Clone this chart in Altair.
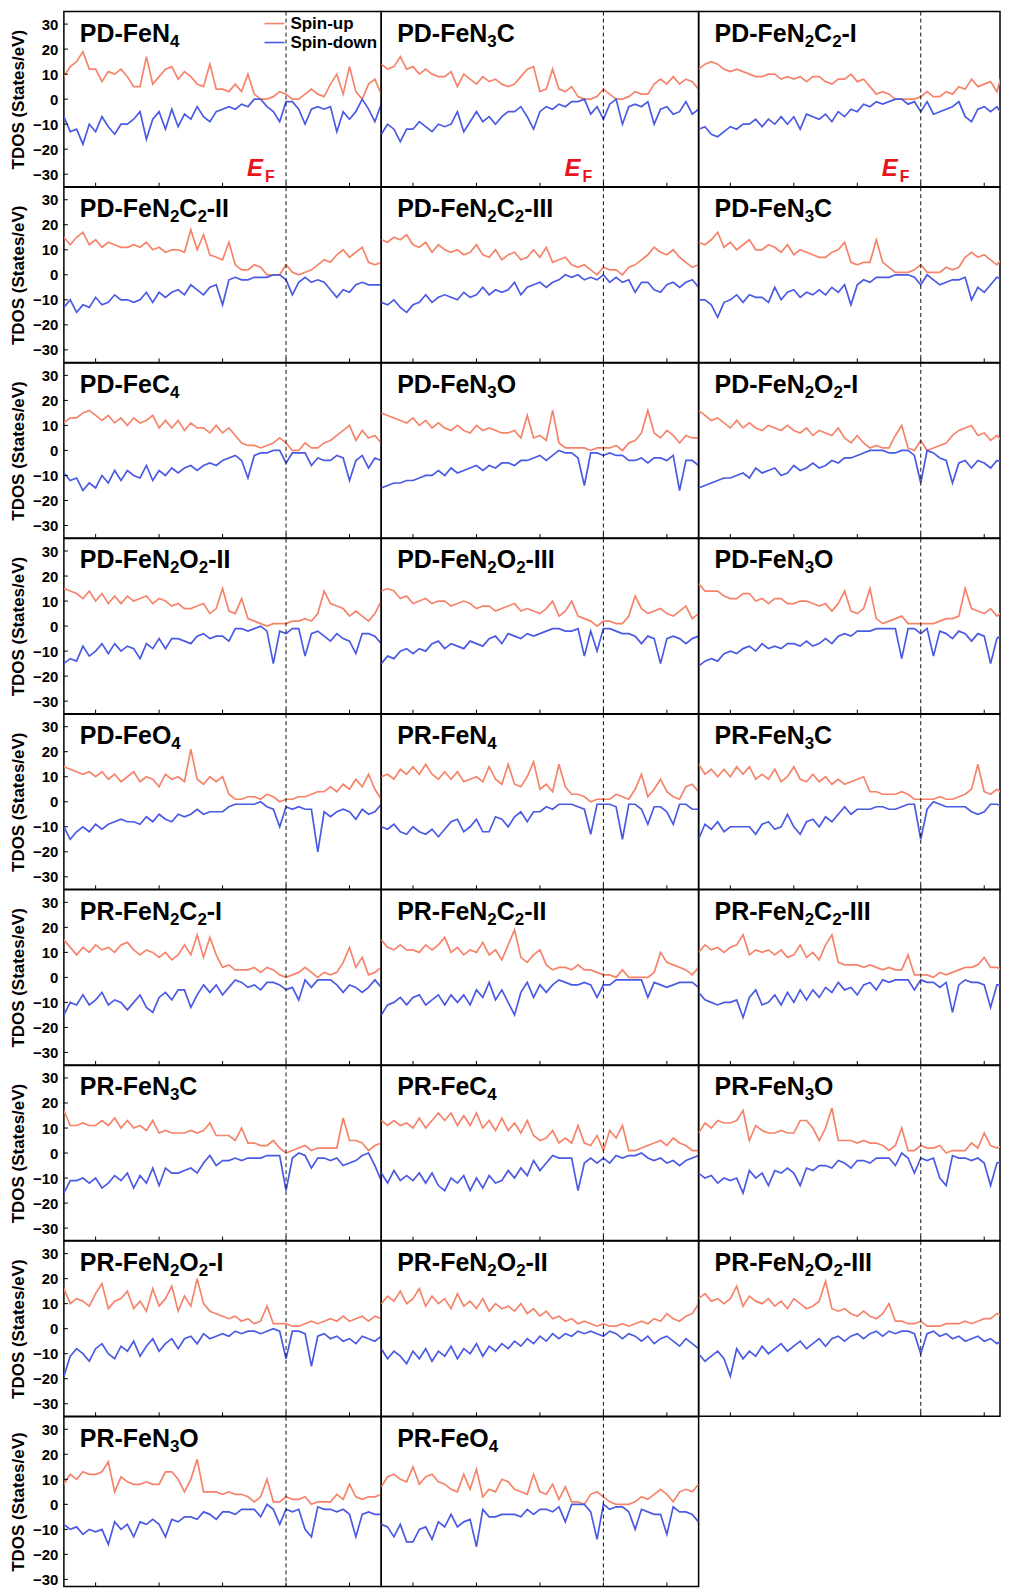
import altair as alt
import pandas as pd

# ---------------- data ----------------
ENERGY = [-7.0, -6.8, -6.6, -6.4, -6.2, -6.0, -5.8, -5.6, -5.4, -5.2,
          -5.0, -4.8, -4.6, -4.4, -4.2, -4.0, -3.8, -3.6, -3.4, -3.2,
          -3.0, -2.8, -2.6, -2.4, -2.2, -2.0, -1.8, -1.6, -1.4, -1.2,
          -1.0, -0.8, -0.6, -0.4, -0.2, 0.0, 0.2, 0.4, 0.6, 0.8,
          1.0, 1.2, 1.4, 1.6, 1.8, 2.0, 2.2, 2.4, 2.6, 2.8, 3.0]
E_FERMI = 0.0
X_TICKS = [-6, -4, -2, 0, 2]
Y_TICKS = [-30, -20, -10, 0, 10, 20, 30]
SPINS = ["Spin-up", "Spin-down"]

PD_FEN4_UP = [9,13,15,19,12,12,7,11,10,12, 9,5,5,17,6,9,12,13,8,11, 9,6,5,14,4,4,3,6,3,10, 2,0,0,1,3,2,0,0,2,4, 2,1,6,10,2,13,3,0,6,8, 2]
PD_FEN4_DN = [-7,-13,-12,-18,-10,-13,-7,-11,-14,-10, -10,-8,-5,-16,-8,-5,-12,-4,-11,-6, -8,-3,-7,-9,-5,-4,-3,-4,-2,-3, 0,0,-3,-5,-9,-1,-1,-4,-10,-4, -3,-4,-3,-13,-5,-8,-5,0,-4,-9, -2]
PD_FEN3C_UP = [14,12,13,17,12,13,10,12,10,9, 9,11,5,10,8,6,9,7,8,6, 5,6,9,12,13,3,4,12,4,3, 5,1,0,0,1,4,2,0,0,1, 3,2,2,6,8,6,9,6,8,7, 4]
PD_FEN3C_DN = [-14,-10,-12,-17,-12,-12,-9,-11,-13,-10, -11,-10,-5,-13,-9,-5,-9,-7,-10,-7, -5,-5,-3,-7,-12,-5,-3,-4,-2,-3, -1,-1,0,-6,-3,-8,-2,0,-10,-3, -2,-3,-1,-10,-4,-3,-6,-5,-1,-6, -4]
PD_FEN2C2_I_UP = [12,14,15,14,12,11,12,11,10,9, 9,10,10,8,9,8,9,7,9,9, 7,6,8,8,10,7,8,5,2,3, 2,0,0,0,0,1,3,1,1,3, 2,5,4,8,5,6,7,3,12,6, 8]
PD_FEN2C2_I_DN = [-12,-11,-14,-15,-13,-11,-12,-10,-10,-8, -11,-8,-10,-7,-10,-7,-12,-6,-7,-8, -6,-9,-5,-7,-4,-5,-2,-3,-1,-2, -1,0,0,-2,-1,-5,-1,-6,-5,-4, -3,-1,-7,-9,-4,-3,-5,-3,-7,-4, -3]
PD_FEN2C2_II_UP = [15,12,15,17,12,14,11,13,12,11, 11,12,11,13,10,11,9,10,10,9, 18,10,16,8,7,6,13,4,2,2, 4,3,0,0,0,4,1,0,1,2, 4,6,5,8,10,7,9,11,5,4, 5]
PD_FEN2C2_II_DN = [-13,-10,-15,-12,-13,-9,-12,-11,-8,-10, -10,-11,-10,-7,-11,-7,-9,-7,-6,-8, -4,-6,-8,-5,-4,-12,-2,-1,-2,-2, -1,-1,-1,0,0,-2,-8,-3,-1,-3, -2,-3,-6,-9,-6,-7,-4,-3,-4,-4, -4]
PD_FEN2C2_III_UP = [14,13,15,14,16,12,11,13,9,12, 10,9,10,8,9,12,8,7,10,6, 8,9,6,7,10,7,11,5,6,7, 4,3,4,2,0,3,2,2,0,3, 4,6,8,11,9,8,10,7,5,3, 4]
PD_FEN2C2_III_DN = [-11,-12,-10,-13,-15,-12,-11,-8,-11,-9, -8,-9,-10,-7,-9,-8,-5,-8,-6,-7, -6,-3,-8,-5,-4,-3,-5,-3,-2,0, -1,0,-2,-1,-2,0,-3,-1,-3,-2, -7,-3,-3,-6,-7,-4,-3,-5,-3,-2, -5]
PD_FEN3C_B_UP = [13,12,14,17,11,13,10,12,14,10, 10,12,11,9,12,8,10,9,8,7, 7,9,10,13,5,4,5,5,14,5, 3,1,1,1,2,4,1,1,1,3, 2,3,7,9,7,8,6,4,7,8, 6]
PD_FEN3C_B_DN = [-10,-10,-12,-17,-11,-10,-8,-11,-8,-9, -9,-11,-5,-10,-7,-6,-9,-7,-8,-6, -8,-5,-7,-4,-12,-4,-2,-3,-1,-1, -1,0,0,0,-1,-4,0,-2,-4,-3, -2,-2,-1,-10,-5,-7,-4,-1,-2,-7, -5]
PD_FEC4_UP = [11,13,13,15,16,14,12,14,11,13, 10,13,11,12,14,9,12,9,12,8, 11,9,9,7,10,7,9,6,3,2, 2,1,2,3,5,3,0,0,3,1, 1,3,4,6,8,10,4,8,5,6, 3]
PD_FEC4_DN = [-9,-12,-11,-16,-13,-15,-10,-13,-8,-12, -8,-10,-11,-6,-12,-8,-10,-7,-9,-7, -6,-8,-6,-5,-6,-4,-3,-2,-4,-11, -2,-1,-1,0,0,-5,-1,-1,-1,-6, -3,-4,-4,-2,-3,-12,-4,-2,-7,-3, -4]
PD_FEN3O_UP = [15,14,13,12,11,13,10,12,9,11, 9,8,10,8,7,10,8,9,8,7, 7,8,5,14,5,6,4,16,3,1, 1,1,1,0,1,1,1,2,0,3, 4,7,16,7,5,8,6,3,6,5, 5]
PD_FEN3O_DN = [-15,-14,-13,-13,-12,-12,-11,-10,-10,-8, -10,-7,-9,-8,-7,-6,-8,-6,-7,-5, -5,-6,-4,-4,-3,-2,-4,-2,0,-1, -1,-3,-14,-1,-1,-2,-1,-2,-2,-4, -4,-3,-5,-3,-3,-4,-2,-16,-4,-4, -6]
PD_FEN2O2_I_UP = [16,14,12,13,11,9,12,9,11,9, 8,10,9,8,10,8,7,9,6,8, 7,6,9,5,3,6,3,1,2,1, 1,6,10,1,0,4,0,1,2,3, 6,8,9,10,6,7,4,6,3,3, 4]
PD_FEN2O2_I_DN = [-15,-14,-13,-12,-11,-11,-10,-9,-11,-7, -9,-8,-7,-10,-9,-6,-8,-7,-5,-7, -6,-4,-5,-3,-3,-2,-1,0,0,0, -1,-1,0,0,-2,-13,0,-1,-3,-4, -13,-5,-4,-7,-4,-5,-7,-4,-5,-5, -4]
PD_FEN2O2_II_UP = [15,14,13,11,14,10,13,9,12,9, 12,10,11,12,9,11,10,8,9,7, 7,8,9,5,7,15,6,5,11,3, 2,1,0,1,1,1,2,2,3,2, 5,14,9,8,7,4,6,4,2,5, 10]
PD_FEN2O2_II_DN = [-15,-13,-14,-8,-12,-10,-7,-11,-7,-10, -8,-9,-13,-7,-9,-5,-9,-5,-5,-6, -7,-4,-3,-5,-4,-4,-6,-1,-1,-2, -1,0,-2,-15,-2,-3,-1,-1,-12,-3, -2,-4,-6,-3,-5,-6,-11,-3,-3,-4, -7]
PD_FEN2O2_III_UP = [14,15,14,11,12,9,10,11,9,10, 10,8,9,10,9,7,8,8,6,7, 8,9,6,7,6,5,7,10,4,6, 10,4,3,2,0,2,2,1,1,4, 12,7,5,6,7,5,4,6,8,3, 5]
PD_FEN2O2_III_DN = [-15,-12,-13,-10,-9,-11,-9,-10,-7,-6, -9,-7,-8,-9,-6,-7,-8,-5,-4,-7, -3,-4,-5,-3,-4,-3,-2,-1,-1,-2, -2,-1,-12,-2,-10,-1,-1,-2,-3,-3, -4,-7,-4,-5,-15,-5,-4,-5,-7,-5, -4]
PD_FEN3O_B_UP = [17,14,14,14,12,11,11,13,13,10, 11,9,11,11,9,9,10,10,9,8, 9,6,9,14,6,5,7,15,3,1, 2,3,4,1,1,1,1,1,2,3, 3,4,15,7,6,5,7,4,6,7, 5]
PD_FEN3O_B_DN = [-16,-14,-13,-14,-11,-10,-11,-9,-8,-10, -7,-9,-8,-9,-7,-7,-8,-6,-8,-7, -5,-7,-4,-3,-4,-2,-2,-2,-1,-1, -1,-1,-13,-1,-1,-3,-1,-12,-2,-3, -5,-2,-3,-6,-3,-4,-15,-5,-3,-4, -4]
PD_FEO4_UP = [14,13,12,11,12,10,12,9,11,8, 10,12,8,10,9,6,11,9,10,8, 21,9,7,10,8,10,3,1,1,2, 2,1,3,2,0,1,1,2,2,3, 4,4,6,4,7,5,9,6,11,5, 1]
PD_FEO4_DN = [-10,-15,-12,-10,-12,-9,-11,-9,-8,-7, -8,-8,-9,-6,-8,-5,-7,-8,-5,-6, -5,-3,-5,-4,-4,-4,-2,-1,-1,-1, -1,0,-2,-3,-10,-2,-3,-2,-3,-3, -20,-4,-6,-4,-3,-4,-7,-3,-5,-4, -1]
PR_FEN4_UP = [10,11,9,13,11,14,11,15,11,9, 12,9,12,8,9,10,8,14,9,7, 15,7,6,10,16,5,7,4,15,6, 3,3,2,0,1,1,1,3,2,1, 5,11,2,5,9,4,2,1,6,7, 4]
PR_FEN4_DN = [-10,-11,-9,-12,-13,-10,-12,-13,-11,-14, -11,-8,-7,-12,-10,-7,-12,-12,-6,-7, -10,-6,-4,-8,-4,-4,-2,-3,-1,-1, -1,-2,-3,-13,-1,-1,-1,-2,-15,-1, -1,-3,-9,-2,-2,-4,-9,-1,-1,-3, -3]
PR_FEN3C_UP = [15,11,13,10,13,10,14,11,14,9, 11,9,13,8,10,14,9,8,11,8, 10,7,9,7,8,9,10,4,4,3, 3,3,4,3,1,1,1,1,2,1, 1,2,3,5,15,4,3,5,3,2, 3]
PR_FEN3C_DN = [-15,-9,-11,-8,-12,-10,-10,-10,-10,-13, -9,-8,-11,-10,-5,-10,-13,-8,-7,-10, -6,-8,-5,-2,-5,-3,-3,-3,-2,-2, -3,-3,-2,-1,-1,-15,-3,0,-1,-2, -2,-2,-2,-4,-5,-4,-1,-1,-2,-2, -2]
PR_FEN2C2_I_UP = [15,12,9,12,10,13,11,12,10,13, 14,11,9,11,10,8,10,7,9,13, 9,17,8,16,9,4,5,3,3,3, 4,2,4,3,1,0,1,2,4,2, 0,2,1,2,6,12,4,8,1,2, 4]
PR_FEN2C2_I_DN = [-15,-10,-11,-7,-11,-9,-6,-11,-9,-10, -13,-10,-7,-12,-14,-8,-6,-9,-5,-5, -12,-7,-3,-6,-3,-7,-4,-1,-2,-4, -3,-5,-2,-2,-3,-5,-4,-9,-1,-4, -1,-1,-1,-3,-6,-3,-4,-6,-4,-1, -4]
PR_FEN2C2_II_UP = [15,12,11,13,11,11,10,13,11,13, 16,10,12,9,11,10,14,9,11,7, 13,19,8,6,9,11,5,3,4,4, 3,5,3,3,2,1,1,0,3,0, 0,0,0,2,10,6,5,4,3,1, 4]
PR_FEN2C2_II_DN = [-15,-11,-10,-8,-11,-8,-7,-11,-9,-7, -11,-7,-10,-7,-11,-5,-8,-2,-9,-5, -10,-15,-6,-2,-8,-3,-6,-3,-1,-2, -3,-3,-2,-3,-8,-3,-3,-1,-1,-1, -1,-1,-8,-2,-3,-4,-3,-2,-2,-2, -4]
PR_FEN2C2_III_UP = [10,13,11,12,10,12,13,17,9,11, 10,11,9,11,8,9,13,8,10,7, 13,17,6,5,5,5,4,5,4,3, 4,3,3,9,1,1,1,0,2,1, 2,3,4,4,5,8,4,4,3,3, 4]
PR_FEN2C2_III_DN = [-6,-9,-10,-11,-10,-10,-9,-16,-8,-5, -11,-10,-7,-11,-6,-10,-5,-9,-5,-8, -4,-6,-2,-5,-4,-7,-3,-2,-5,-1, -2,-1,-1,-1,-5,-1,-2,-2,-4,-2, -14,-3,-1,-2,-2,-3,-12,-3,-3,-4, -4]
PR_FEN3C_B_UP = [17,11,11,12,11,11,13,11,14,10, 13,10,11,9,13,8,9,8,8,8, 9,8,9,12,7,7,7,5,10,4, 4,3,3,5,2,0,1,2,3,1, 2,2,2,2,14,5,5,4,1,3, 4]
PR_FEN3C_B_DN = [-16,-11,-11,-10,-12,-10,-14,-12,-9,-11, -8,-14,-9,-12,-6,-13,-6,-8,-8,-7, -6,-8,-4,-1,-5,-3,-3,-2,-3,-2, -2,-2,-1,-1,-1,-15,-2,0,-1,-6, -2,-2,-3,-2,-5,-4,-3,-1,0,-5, -11]
PR_FEC4_UP = [13,11,13,11,12,10,14,10,13,16, 13,16,11,15,11,16,10,13,9,14, 9,12,8,13,7,5,6,9,4,6, 4,11,4,3,7,1,9,6,11,1, 1,2,3,4,5,3,6,4,3,1, 1]
PR_FEC4_DN = [-8,-12,-7,-11,-9,-11,-8,-12,-8,-13, -15,-10,-12,-9,-15,-10,-14,-9,-12,-11, -7,-10,-6,-9,-3,-7,-4,-1,-2,-2, -2,-15,-4,-2,-4,-2,-4,-1,-2,-1, -1,0,-2,-3,-2,-4,-3,-5,-3,-2, -1]
PR_FEN3O_UP = [8,12,10,13,12,12,13,17,5,11, 9,8,8,9,8,8,13,13,10,5, 10,18,5,5,5,4,5,4,4,3, 1,3,10,1,1,3,2,2,3,0, 1,1,1,4,2,8,3,2,3,3, 4]
PR_FEN3O_DN = [-8,-10,-9,-12,-10,-11,-10,-16,-7,-10, -8,-13,-7,-8,-6,-8,-13,-6,-7,-5, -5,-6,-3,-4,-6,-3,-3,-4,-2,-2, -2,-5,0,-2,-8,-2,-3,-2,-10,-13, -1,-2,-2,-3,-2,-4,-13,-4,-3,-4, -4]
PR_FEN2O2_I_UP = [16,10,12,11,9,14,18,8,11,12, 15,8,11,7,16,9,12,17,7,13, 9,20,10,7,6,5,4,5,3,4, 2,3,9,2,2,2,1,1,2,3, 2,3,4,3,5,3,4,5,3,5, 4]
PR_FEN2O2_I_DN = [-19,-11,-8,-10,-13,-8,-6,-10,-12,-7, -9,-5,-11,-7,-4,-9,-6,-4,-8,-4, -3,-6,-2,-4,-3,-2,-3,-1,-2,-1, -1,-2,-1,0,-1,-12,-1,-1,-2,-15, -3,-2,-4,-3,-5,-4,-6,-3,-4,-5, -3]
PR_FEN2O2_II_UP = [10,13,11,15,10,12,16,9,13,10, 12,8,14,9,11,8,12,7,10,8, 9,7,10,6,8,5,7,4,5,3, 4,2,3,2,1,2,1,1,2,1, 2,3,2,4,3,6,4,3,5,6, 10]
PR_FEN2O2_II_DN = [-8,-12,-9,-11,-14,-9,-12,-8,-13,-9, -11,-7,-12,-8,-10,-6,-11,-7,-9,-6, -8,-5,-7,-4,-6,-3,-5,-2,-4,-2, -3,-1,-2,-1,-2,-3,-1,-2,-4,-2, -3,-5,-3,-6,-4,-3,-5,-7,-4,-6, -8]
PR_FEN2O2_III_UP = [12,14,11,12,10,12,17,9,13,11, 10,12,9,11,8,12,10,8,9,11, 19,8,7,8,6,5,7,5,4,6, 10,3,3,2,2,3,1,1,1,2, 2,2,3,2,3,4,4,6,5,4, 5]
PR_FEN2O2_III_DN = [-10,-13,-11,-9,-12,-19,-8,-12,-9,-11, -7,-10,-8,-6,-9,-7,-5,-8,-6,-4, -7,-4,-3,-5,-3,-2,-4,-2,-1,-3, -1,-2,-1,-1,-2,-10,-2,-1,-3,-2, -4,-3,-5,-4,-3,-5,-4,-6,-4,-6, -7]
PR_FEO4_UP = [7,11,12,10,9,15,8,11,12,9, 8,6,5,12,6,14,3,6,5,10, 9,6,5,4,12,5,4,8,2,7, 1,1,0,4,5,3,1,0,0,0, 1,3,2,4,6,4,1,5,6,5, 8]
PR_FEO4_DN = [-8,-9,-13,-8,-15,-15,-10,-9,-14,-7, -9,-4,-9,-7,-6,-17,-2,-5,-5,-4, -4,-4,-5,-2,-4,-2,-2,-3,-1,-7, 0,0,0,-3,-14,0,-2,-1,-1,-3, -10,-2,-3,-4,-4,-12,-1,-3,-3,-4, -7]

# panel titles: digits are drawn as subscripts
PANELS = [
    ("PD-FeN4", PD_FEN4_UP, PD_FEN4_DN),
    ("PD-FeN3C", PD_FEN3C_UP, PD_FEN3C_DN),
    ("PD-FeN2C2-I", PD_FEN2C2_I_UP, PD_FEN2C2_I_DN),
    ("PD-FeN2C2-II", PD_FEN2C2_II_UP, PD_FEN2C2_II_DN),
    ("PD-FeN2C2-III", PD_FEN2C2_III_UP, PD_FEN2C2_III_DN),
    ("PD-FeN3C", PD_FEN3C_B_UP, PD_FEN3C_B_DN),
    ("PD-FeC4", PD_FEC4_UP, PD_FEC4_DN),
    ("PD-FeN3O", PD_FEN3O_UP, PD_FEN3O_DN),
    ("PD-FeN2O2-I", PD_FEN2O2_I_UP, PD_FEN2O2_I_DN),
    ("PD-FeN2O2-II", PD_FEN2O2_II_UP, PD_FEN2O2_II_DN),
    ("PD-FeN2O2-III", PD_FEN2O2_III_UP, PD_FEN2O2_III_DN),
    ("PD-FeN3O", PD_FEN3O_B_UP, PD_FEN3O_B_DN),
    ("PD-FeO4", PD_FEO4_UP, PD_FEO4_DN),
    ("PR-FeN4", PR_FEN4_UP, PR_FEN4_DN),
    ("PR-FeN3C", PR_FEN3C_UP, PR_FEN3C_DN),
    ("PR-FeN2C2-I", PR_FEN2C2_I_UP, PR_FEN2C2_I_DN),
    ("PR-FeN2C2-II", PR_FEN2C2_II_UP, PR_FEN2C2_II_DN),
    ("PR-FeN2C2-III", PR_FEN2C2_III_UP, PR_FEN2C2_III_DN),
    ("PR-FeN3C", PR_FEN3C_B_UP, PR_FEN3C_B_DN),
    ("PR-FeC4", PR_FEC4_UP, PR_FEC4_DN),
    ("PR-FeN3O", PR_FEN3O_UP, PR_FEN3O_DN),
    ("PR-FeN2O2-I", PR_FEN2O2_I_UP, PR_FEN2O2_I_DN),
    ("PR-FeN2O2-II", PR_FEN2O2_II_UP, PR_FEN2O2_II_DN),
    ("PR-FeN2O2-III", PR_FEN2O2_III_UP, PR_FEN2O2_III_DN),
    ("PR-FeN3O", PR_FEN3O_UP, PR_FEN3O_DN),
    ("PR-FeO4", PR_FEO4_UP, PR_FEO4_DN),
]

# ---------------- style ----------------
W, H = 318, 175.5
W_LAST_COL = 302
H_LAST_ROW = 170
PX_PER_EV = W / 10.0
PX_PER_UNIT = H / 70.0
FONT = "Liberation Sans"
UP_COLOR = "#F5846A"
DN_COLOR = "#4A5AE2"
TITLE_SIZE = 25
SUB_SIZE = 17
# Arial/Liberation Sans Bold advance widths (1/1000 em)
CHAR_W = {"P": 667, "D": 722, "R": 722, "-": 333, "F": 611, "e": 556, "N": 722,
          "C": 722, "O": 778, "I": 278, "2": 556, "3": 556, "4": 556}


def title_layers(t):
    segs = []
    for ch in t:
        sub = ch.isdigit()
        if segs and segs[-1][1] == sub:
            segs[-1][0] += ch
        else:
            segs.append([ch, sub])
    x = 16.0
    out = []
    for s, sub in segs:
        size = SUB_SIZE if sub else TITLE_SIZE
        out.append(
            alt.Chart(pd.DataFrame({"label": [s]})).mark_text(
                align="left", baseline="alphabetic", font=FONT, fontSize=size,
                fontWeight="bold", color="black"
            ).encode(text="label:N", x=alt.value(round(x, 1)), y=alt.value(35 if sub else 30))
        )
        x += sum(CHAR_W[c] for c in s) * size / 1000.0
    return out


def make_panel(idx, title, up, dn):
    col = idx % 3
    row = idx // 3
    w = W_LAST_COL if col == 2 else W
    h = H_LAST_ROW if row == 8 else H
    xmax = -7 + w / PX_PER_EV
    ymin = 35 - h / PX_PER_UNIT
    xs = alt.Scale(domain=[-7, round(xmax, 3)], nice=False, zero=False)
    ys = alt.Scale(domain=[round(ymin, 3), 35], nice=False, zero=False)
    n = len(ENERGY)
    df = pd.DataFrame({
        "E": ENERGY + ENERGY,
        "DOS": list(up) + list(dn),
        "Spin": [SPINS[0]] * n + [SPINS[1]] * n,
    })
    if col == 0:
        yaxis = alt.Axis(values=Y_TICKS, ticks=False, domain=False, grid=False,
                         labelFont=FONT, labelFontSize=15, labelFontWeight="bold",
                         labelColor="black", labelPadding=6,
                         title="TDOS (States/eV)", titleFont=FONT, titleFontSize=17,
                         titleFontWeight="bold", titleColor="black", titlePadding=5)
    else:
        yaxis = None
    xenc = alt.X("E:Q", scale=xs, axis=None)
    if idx == 0:
        legend = alt.Legend(orient="none", legendX=200, legendY=1, title=None,
                            labelFont=FONT, labelFontSize=17, labelFontWeight="bold",
                            labelColor="black", symbolType="stroke",
                            symbolStrokeWidth=1.6, symbolSize=400, rowPadding=-1,
                            padding=0, labelOffset=5, direction="vertical")
    else:
        legend = None

    lines = alt.Chart(df).mark_line(strokeWidth=1.7, clip=True).encode(
        x=xenc,
        y=alt.Y("DOS:Q", scale=ys, axis=yaxis),
        color=alt.Color("Spin:N", scale=alt.Scale(domain=SPINS, range=[UP_COLOR, DN_COLOR]),
                        legend=legend),
    )
    ef = pd.DataFrame({"E": [E_FERMI]})
    ef_rule = alt.Chart(ef).mark_rule(color="#111111", strokeWidth=1, strokeDash=[4, 3]).encode(x=xenc)
    xt = alt.Chart(pd.DataFrame({"E": X_TICKS})).mark_rule(color="black", strokeWidth=1).encode(
        x=xenc, y=alt.value(h), y2=alt.value(h - 4))
    layers = [lines, ef_rule, xt] + title_layers(title)
    if col == 0:
        yt = alt.Chart(pd.DataFrame({"DOS": Y_TICKS})).mark_rule(color="black", strokeWidth=1).encode(
            y=alt.Y("DOS:Q", scale=ys, axis=yaxis), x=alt.value(0), x2=alt.value(4))
        layers.append(yt)
    if row == 0:
        e_txt = alt.Chart(ef).mark_text(text="E", align="right", baseline="alphabetic", dx=-23,
                                        font=FONT, fontSize=24, fontStyle="italic",
                                        fontWeight="bold", color="#E8141B").encode(
            x=xenc, y=alt.value(165))
        f_txt = alt.Chart(ef).mark_text(text="F", align="left", baseline="alphabetic", dx=-21,
                                        font=FONT, fontSize=16, fontWeight="bold",
                                        color="#E8141B").encode(
            x=xenc, y=alt.value(171))
        layers += [e_txt, f_txt]
    return alt.layer(*layers).properties(width=w, height=h)


panels = [make_panel(i, t, u, d) for i, (t, u, d) in enumerate(PANELS)]

chart = alt.concat(
    *panels, columns=3, spacing=0, bounds="flush", padding=0,
).resolve_scale(
    x="independent", y="independent", color="independent"
).resolve_legend(color="independent").configure(
    font=FONT
).configure_view(
    stroke="black", strokeWidth=1.5
)

chart.save("out.html", embed_options={"renderer": "svg", "actions": False})
